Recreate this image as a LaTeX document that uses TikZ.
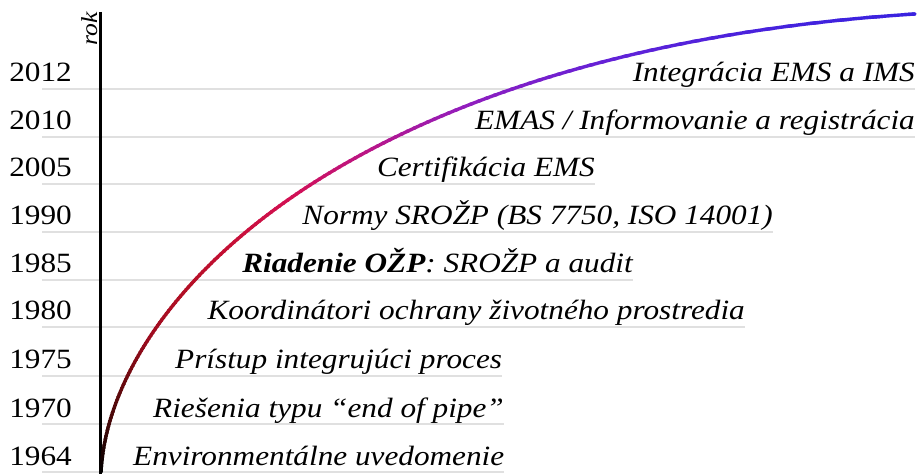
\documentclass[tikz,border=0pt]{standalone}
\usepackage{fontspec}
\setmainfont{Liberation Serif}[FakeStretch=1.12]
\tikzset{
  yearlbl/.style={anchor=base east, inner sep=0pt, font=\fontsize{28}{30}\selectfont},
  eventlbl/.style={inner sep=0pt, font=\fontsize{28}{30}\selectfont\itshape},
  gridline/.style={draw=black!12, line width=1.5bp},
  axisline/.style={line width=3bp, draw=black},
  curveline/.style={line width=3.4bp, line cap=round},
}
\begin{document}
\begin{tikzpicture}[x=1bp,y=-1bp]
\fill[white] (0,0) rectangle (920,474);
\useasboundingbox (0,0) rectangle (920,474);

% year labels
\node[yearlbl] (y0) at (72,82) {2012};
\node[yearlbl] (y1) at (72,130) {2010};
\node[yearlbl] (y2) at (72,177) {2005};
\node[yearlbl] (y3) at (72,225) {1990};
\node[yearlbl] (y4) at (72,273) {1985};
\node[yearlbl] (y5) at (72,320) {1980};
\node[yearlbl] (y6) at (72,369) {1975};
\node[yearlbl] (y7) at (72,417) {1970};
\node[yearlbl] (y8) at (72,465) {1964};

% event labels
\node[eventlbl, anchor=base east] (e0) at (915,82) {Integrácia EMS a IMS};
\node[eventlbl, anchor=base east] (e1) at (915,130) {EMAS / Informovanie a registrácia};
\node[eventlbl, anchor=base east] (e2) at (595,177) {Certifikácia EMS};
\node[eventlbl, anchor=base east] (e3) at (773,225) {Normy SROŽP (BS 7750, ISO 14001)};
\node[eventlbl, anchor=base east] (e4) at (633,273) {\textbf{Riadenie OŽP}: SROŽP a audit};
\node[eventlbl, anchor=base east] (e5) at (745,320) {Koordinátori ochrany životného prostredia};
\node[eventlbl, anchor=base west] (e6) at (175,369) {Prístup integrujúci proces};
\node[eventlbl, anchor=base west] (e7) at (153,417) {Riešenia typu “end of pipe”};
\node[eventlbl, anchor=base west] (e8) at (133,465) {Environmentálne uvedomenie};

% grid lines
\coordinate (g0) at (42,89);
\coordinate (g1) at (42,137);
\coordinate (g2) at (42,184);
\coordinate (g3) at (42,232);
\coordinate (g4) at (42,280);
\coordinate (g5) at (42,327);
\coordinate (g6) at (42,376);
\coordinate (g7) at (42,424);
\coordinate (g8) at (42,472);
\foreach \k in {0,...,8}{
  \draw[gridline] (g\k) -- (g\k -| e\k.east);
}

% axis
\coordinate (axtop) at (100,12);
\coordinate (axbot) at (100,474);
\draw[axisline] (axtop) -- (axbot);
\node[rotate=90, anchor=base west, inner sep=0pt, font=\fontsize{23}{25}\selectfont\itshape] (rok) at (97,46) {rok};

% gradient curve, drawn in thin horizontal bands
\coordinate (cstart) at (101,472);
\coordinate (cend) at (915,14);
\foreach \i in {0,...,155}{
  \pgfmathsetmacro\ybot{475-3*\i}
  \pgfmathsetmacro\ytop{\ybot-3.4}
  \pgfmathsetmacro\f{max(0,min(0.999,(473.5-\ybot)/458))}
  \pgfmathtruncatemacro\kk{floor(\f*10)}
  \pgfmathtruncatemacro\kn{\kk+1}
  \pgfmathsetmacro\tt{\f*10-\kk}
  \pgfmathtruncatemacro\R{{0,64,108,160,180,199,211,187,146,100,58}[\kk]*(1-\tt)+{0,64,108,160,180,199,211,187,146,100,58}[\kn]*\tt}
  \pgfmathtruncatemacro\G{{0,8,10,12,15,16,16,22,30,34,34}[\kk]*(1-\tt)+{0,8,10,12,15,16,16,22,30,34,34}[\kn]*\tt}
  \pgfmathtruncatemacro\B{{0,8,15,32,38,55,84,135,190,216,224}[\kk]*(1-\tt)+{0,8,15,32,38,55,84,135,190,216,224}[\kn]*\tt}
  \definecolor{segc}{RGB}{\R,\G,\B}
  \begin{scope}
    \clip (0,\ytop) rectangle (920,\ybot);
    \draw[curveline, draw=segc] (cstart) .. controls (110,300) and (350,50) .. (cend);
  \end{scope}
}
\end{tikzpicture}
\end{document}
